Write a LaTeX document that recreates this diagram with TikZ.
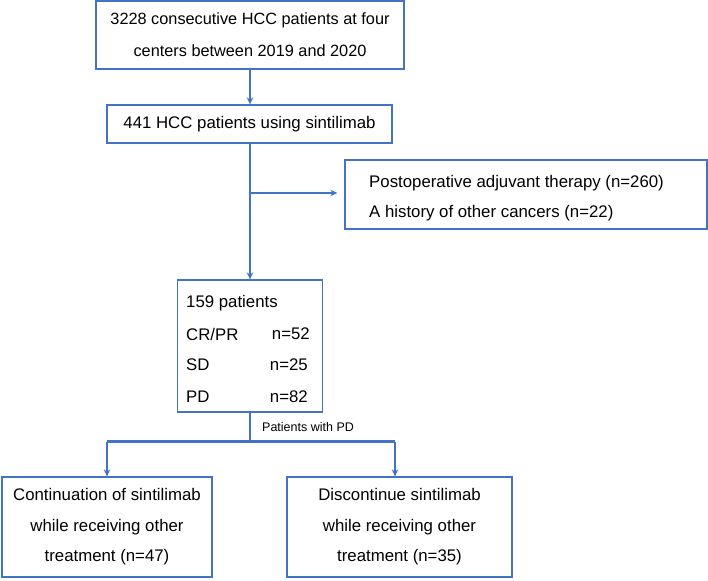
\documentclass[tikz,border=0pt]{standalone}
\usepackage{fontspec}
\setmainfont{Liberation Sans}
\usetikzlibrary{arrows.meta}
\definecolor{bblue}{HTML}{4472C4}
\tikzset{
  box/.style={draw=bblue, line width=1.3pt, inner sep=0pt, font=\fontsize{16.8}{30.5}\selectfont, align=center},
  txt/.style={inner sep=0pt, font=\fontsize{16.8}{18}\selectfont, anchor=west},
  conn/.style={draw=bblue, line width=2.5pt},
  arr/.style={conn, -{Stealth[length=7pt,width=6.5pt]}},
}
\begin{document}
\begin{tikzpicture}[x=1pt,y=-1pt]
\useasboundingbox (0,0) rectangle (708,580);
\node[box, minimum width=308pt, minimum height=68pt, font=\fontsize{16.3}{32}\selectfont] (b1) at (250,35) {3228 consecutive HCC patients at four\\centers between 2019 and 2020};
\node[box, minimum width=285pt, minimum height=38pt] (b2) at (249.5,124) {441 HCC patients using sintilimab};
\node[box, minimum width=362pt, minimum height=69pt] (ex) at (526,194.5) {};
\node[txt] (ex1) at (369,183) {Postoperative adjuvant therapy (n=260)};
\node[txt] (ex2) at (369,213) {A history of other cancers (n=22)};
\node[box, minimum width=145pt, minimum height=132pt] (b3) at (250,346) {};
\node[txt] (t0) at (186,303) {159 patients};
\node[txt] (t1) at (186,334) {CR/PR};
\node[txt] (t2) at (186,365) {SD};
\node[txt] (t3) at (186,397) {PD};
\node[txt, anchor=east] (n1) at (310,334) {n=52};
\node[txt, anchor=east] (n2) at (308,365) {n=25};
\node[txt, anchor=east] (n3) at (308,397) {n=82};
\node[box, minimum width=210pt, minimum height=100pt] (bl) at (107,527) {Continuation of sintilimab\\while receiving other\\treatment (n=47)};
\node[box, minimum width=225pt, minimum height=100pt] (br) at (399.5,527) {Discontinue sintilimab\\while receiving other\\treatment (n=35)};
\node[inner sep=0pt, font=\fontsize{12.5}{14}\selectfont, anchor=west] (pd) at (262,427) {Patients with PD};
\coordinate (sl) at (107,441.5);
\coordinate (sr) at (395,441.5);
\draw[arr] (250,0 |- b1.south) -- (250,0 |- b2.north);
\draw[arr] (250,0 |- b2.south) -- (b3.north);
\draw[arr, shorten >=7pt] (250,193) -- (ex.west |- 0,193);
\draw[conn] (b3.south) -- (b3.south |- sl);
\draw[conn] (sl) -- (sr);
\draw[arr] (sl) -- (sl |- bl.north);
\draw[arr] (sr) -- (sr |- br.north);
\end{tikzpicture}
\end{document}
